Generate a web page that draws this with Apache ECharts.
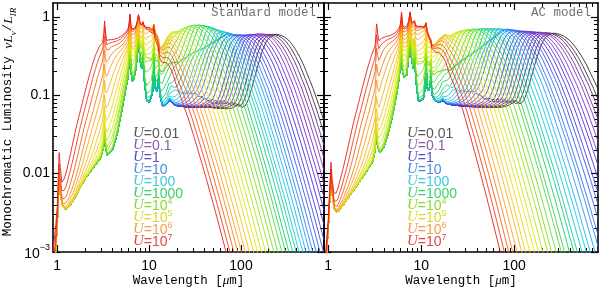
<!DOCTYPE html>
<html><head><meta charset="utf-8">
<script src="https://cdn.jsdelivr.net/npm/echarts@6/dist/echarts.min.js"></script>
<style>html,body{margin:0;padding:0;background:#fff}#c{width:600px;height:290px}</style>
</head><body><div id="c"></div>
<script>
// ---------------- axes ----------------
const X_MIN = 0.9, X_MAX = 800, Y_MIN = 0.001, Y_MAX = 1.5;
const X_MAJOR = [1, 10, 100];
const X_MINOR = [2,3,4,5,6,7,8,9,20,30,40,50,60,70,80,90,200,300,400,500,600,700];
const Y_MAJOR = [0.001, 0.01, 0.1, 1];
const Y_MINOR = [0.002,0.003,0.004,0.005,0.006,0.007,0.008,0.009,0.02,0.03,0.04,0.05,0.06,0.07,0.08,0.09,0.2,0.3,0.4,0.5,0.6,0.7,0.8,0.9];

// ---------------- legend ----------------
const U_BASE = ['0.01','0.1','1','10','100','1000','10','10','10','10'];
const U_EXP  = ['','','','','','','4','5','6','7'];
const U_TEXT_COLORS = ['#585858','#8b5aab','#5b4fc9','#4a8ade','#3ccbe0','#3ccf6a','#8bd92e','#d8d82e','#f0a04a','#e04848'];
const LINE_ANCHORS = ['#2a2a2a','#8a2ab8','#4a2ad8','#2a6ef0','#10c8e8','#10d060','#7ee010','#e6e610','#ffa018','#e81a1a'];
const PANEL_TITLES = ['Standard model', 'AC model'];

// ---------------- Standard model (left) ----------------
// stochastically heated (PAH / small grain) emission, [wavelength um, nuLnu/LIR]
const STD_P = [[0.9,0.0003],[0.95,0.0008],[1.0,0.0022],[1.03,0.005],[1.05,0.008],[1.08,0.0055],[1.15,0.0038],[1.25,0.0034],[1.5,0.0045],[2.0,0.0085],[2.5,0.012],[3.0,0.016],[3.2,0.022],[3.28,0.035],[3.36,0.022],[3.5,0.017],[4.0,0.02],[4.5,0.032],[5.0,0.06],[5.5,0.11],[5.9,0.17],[6.1,0.3],[6.2,0.45],[6.35,0.2],[6.6,0.15],[7.0,0.17],[7.4,0.3],[7.7,0.5],[7.95,0.28],[8.3,0.22],[8.6,0.3],[8.9,0.15],[9.4,0.085],[10.5,0.08],[11.0,0.12],[11.3,0.26],[11.6,0.12],[12.2,0.11],[12.7,0.17],[13.1,0.1],[14.0,0.072],[15.5,0.075],[17.0,0.09],[18.5,0.075],[22,0.072],[30,0.07],[45,0.07],[65,0.066],[90,0.06],[130,0.05],[200,0.035],[300,0.02],[500,0.008],[800,0.003]];
// band strength factor on the heated-grain continuum
const STD_F = [[0.9,1],[1.0,1],[1.03,2.5],[1.05,5],[1.08,2.5],[1.12,1],[3.15,1],[3.22,1.3],[3.28,1.8],[3.35,1.3],[3.45,1],[6.0,1],[6.2,1.2],[6.4,1],[7.4,1],[7.7,1.1],[8.0,1],[8.5,1],[9.7,1.2],[11,1.0],[12.2,0.8],[13,0.5],[14.5,0.6],[16,0.8],[18,0.95],[20,0.9],[24,0.95],[30,1],[800,1]];
// per-curve values, U = 10^-2 ... 10^7 in 0.25 dex steps
const STD_PEAK_WL = [240,218,199,181,165,150,137,125,114,103,94,86,78,71,65,59,54,49,45,41,37,34,31,28,25.5,23.2,21.1,19.2,17.5,16.0,14.5,13.2,12.0,11.0,10.0,9.1,8.3];
const STD_PEAK_VAL = [0.6,0.6,0.6,0.6,0.61,0.61,0.6,0.6,0.59,0.59,0.59,0.59,0.6,0.62,0.64,0.66,0.68,0.7,0.73,0.76,0.78,0.79,0.79,0.78,0.77,0.74,0.71,0.68,0.66,0.64,0.62,0.6,0.59,0.58,0.57,0.56,0.55];
const STD_PLATEAU = [0,0,0,0,0,0,0,0,0,0.01,0.02,0.03,0.04,0.05,0.06,0.07,0.08,0.1,0.12,0.14,0.17,0.2,0.24,0.28,0.32,0.36,0.36,0.36,0.36,0.36,0.36,0.36,0.36,0.36,0.36,0.36,0.36];
const STD_SLOPE = [0,0,0,0,0,0,0,0,0,0,0,0,0,0.05,0.1,0.15,0.2,0.25,0.3,0.35,0.4,0.45,0.5,0.55,0.6,0.6,0.6,0.55,0.5,0.45,0.4,0.33,0.26,0.2,0.14,0.09,0.05];
const STD_TAIL = [1,1,1,1,1,1,1,1,1,1,1,1,1,1,1,1,1,1,1,1,1,1,1,1,1,1,1,1,1,1,1,1,1,1,1,1,1];

// ---------------- AC model (right) ----------------
const AC_P = [[0.9,0.0003],[0.95,0.0008],[1.0,0.002],[1.04,0.005],[1.07,0.009],[1.1,0.0055],[1.17,0.0035],[1.25,0.0031],[1.5,0.0042],[2.0,0.0068],[2.5,0.01],[3.0,0.014],[3.2,0.02],[3.3,0.035],[3.4,0.022],[3.6,0.018],[4.0,0.022],[4.5,0.035],[5.0,0.06],[5.5,0.11],[5.85,0.18],[6.05,0.32],[6.15,0.48],[6.3,0.2],[6.6,0.16],[7.0,0.18],[7.35,0.32],[7.6,0.52],[7.85,0.3],[8.2,0.22],[8.5,0.3],[8.8,0.15],[9.3,0.085],[10.5,0.085],[11.0,0.12],[11.3,0.26],[11.6,0.12],[12.3,0.11],[12.7,0.17],[13.1,0.1],[14,0.085],[16,0.08],[17,0.088],[18.5,0.078],[22,0.075],[30,0.072],[50,0.07],[80,0.068],[120,0.066],[180,0.058],[280,0.04],[450,0.02],[800,0.008]];
const AC_F = [[0.9,1],[1.0,1],[1.04,2.5],[1.07,5],[1.1,2.5],[1.15,1],[3.2,1],[3.26,1.35],[3.32,1.75],[3.4,1.3],[3.5,1],[6.0,1],[6.15,1.2],[6.35,1],[7.3,1],[7.6,1.1],[7.9,1],[8.5,1],[9.7,1.15],[11,1.05],[12,0.8],[13,0.55],[14.5,0.6],[16,0.78],[18,0.92],[20,0.88],[23,0.95],[28,1],[800,1]];
const AC_PEAK_WL = [263,240,219,200,183,167,152,139,127,116,106,97,88,81,74,67,61,56,51,47,43,39,36,32.5,29.7,27.1,24.7,22.6,20.6,18.8,17.2,15.7,14.3,13.1,11.9,10.9,10.0];
const AC_PEAK_VAL = [0.62,0.62,0.63,0.63,0.64,0.64,0.65,0.65,0.66,0.66,0.67,0.68,0.69,0.7,0.7,0.71,0.71,0.71,0.71,0.71,0.71,0.7,0.7,0.69,0.68,0.67,0.66,0.65,0.64,0.63,0.62,0.62,0.61,0.61,0.6,0.6,0.6];
const AC_PLATEAU = [0,0,0,0,0,0,0,0,0,0.01,0.02,0.03,0.04,0.05,0.06,0.07,0.08,0.1,0.12,0.14,0.17,0.2,0.24,0.28,0.32,0.36,0.37,0.38,0.38,0.38,0.38,0.38,0.38,0.38,0.38,0.38,0.38];
const AC_SLOPE = [0,0,0,0,0,0,0,0,0,0,0,0,0,0.05,0.1,0.15,0.2,0.25,0.3,0.35,0.4,0.45,0.5,0.55,0.6,0.6,0.6,0.55,0.5,0.45,0.4,0.33,0.26,0.2,0.14,0.09,0.05];
const AC_TAIL = [0.85,0.86,0.86,0.87,0.87,0.88,0.89,0.89,0.9,0.91,0.91,0.92,0.93,0.93,0.94,0.95,0.95,0.96,0.97,0.97,0.98,0.99,0.99,1.0,1.01,1.01,1.02,1.03,1.03,1.04,1.05,1.05,1.06,1.07,1.07,1.08,1.09];

// heated-grain hump shape (log10 relative to peak) vs log10(lambda/lambda_edge)
const HUMP_BLUE = [[-1.5,-9],[-1.0,-5.6],[-0.8,-4.2],[-0.7,-3.5],[-0.6,-2.8],[-0.5,-2.1],[-0.4,-1.45],[-0.35,-1.15],[-0.3,-0.9],[-0.25,-0.65],[-0.2,-0.42],[-0.15,-0.22],[-0.1,-0.08],[-0.05,-0.02],[0,0]];
const HUMP_RED = [[0,0],[0.05,-0.01],[0.1,-0.04],[0.15,-0.09],[0.2,-0.17],[0.25,-0.27],[0.3,-0.39],[0.4,-0.68],[0.5,-1.02],[0.6,-1.4],[0.7,-1.8],[0.8,-2.22],[0.9,-2.66],[1.0,-3.1],[1.2,-4.05],[1.5,-5.5],[2.0,-8],[3.0,-13]];

// ---------------- helpers ----------------
const lg = Math.log10;
function tab(t, r){ if (r<=t[0][0]) return t[0][1]; for (let i=1;i<t.length;i++){ if (r<=t[i][0]){ const f=(r-t[i-1][0])/(t[i][0]-t[i-1][0]); return t[i-1][1]+(t[i][1]-t[i-1][1])*f; } } return t[t.length-1][1]; }
function nodeLog(n, l){ const L=lg(l); if (l<=n[0][0]) return n[0][1]; for (let i=1;i<n.length;i++){ if (l<=n[i][0]){ const a=lg(n[i-1][0]), b=lg(n[i][0]), f=(L-a)/(b-a); return Math.pow(10, lg(n[i-1][1])+(lg(n[i][1])-lg(n[i-1][1]))*f); } } return n[n.length-1][1]; }
function nodeLin(n, l){ const L=lg(l); if (l<=n[0][0]) return n[0][1]; for (let i=1;i<n.length;i++){ if (l<=n[i][0]){ const a=lg(n[i-1][0]), b=lg(n[i][0]), f=(L-a)/(b-a); return n[i-1][1]+(n[i][1]-n[i-1][1])*f; } } return n[n.length-1][1]; }
function sed(P,F,wl,hv,pw,dd,ts,l){
  const r = lg(l/wl);
  let h;
  if (r >= 0) h = tab(HUMP_RED, r*ts);
  else if (r >= -pw) { const t = 1 + r/pw; h = -dd*(1 - (3*t*t - 2*t*t*t)); }
  else h = -dd + tab(HUMP_BLUE, r+pw);
  const cut = Math.max(15, 0.4*wl);
  const pv = nodeLog(P,l) * (l > cut ? Math.pow(cut/l, 6) : 1);
  return pv + hv*Math.pow(10,h)*nodeLin(F,l);
}
function waveGrid(P,F){ const g=[]; for (let e=lg(X_MIN); e<=lg(X_MAX)+1e-9; e+=0.01) g.push(Math.pow(10,e)); P.forEach(n=>g.push(n[0])); F.forEach(n=>g.push(n[0])); g.sort((a,b)=>a-b); return g.filter((v,i)=>i===0||v-g[i-1]>1e-9); }
function hex2rgb(h){ return [1,3,5].map(i=>parseInt(h.substr(i,2),16)); }
function colorFor(k){ const a=Math.floor(k/4), t=(k%4)/4; if (a>=LINE_ANCHORS.length-1) return LINE_ANCHORS[LINE_ANCHORS.length-1]; const c0=hex2rgb(LINE_ANCHORS[a]), c1=hex2rgb(LINE_ANCHORS[a+1]); return 'rgb('+c0.map((v,i)=>Math.round(v+(c1[i]-v)*t)).join(',')+')'; }

function panelSeries(p, P, F, WL, HV, PW, DD, TS){
  const g = waveGrid(P,F);
  return WL.map((wl,k)=>({
    type:'line', xAxisIndex:4*p, yAxisIndex:4*p, symbol:'none', silent:true, animation:false, z:2,
    lineStyle:{width:0.9, color:colorFor(k)},
    data: g.map(l=>[l, Math.max(1e-5, sed(P,F,wl,HV[k],PW[k],DD[k],TS[k],l))])
  }));
}

// ---------------- axes builders ----------------
const AX = {color:'#000', width:1.6};
const SANS = "'Liberation Sans', Arial, sans-serif";
function xAxes(g){
  const base = {gridIndex:g, type:'log', min:X_MIN, max:X_MAX, splitLine:{show:false}, minorTick:{show:false}};
  return [
    Object.assign({}, base, {position:'bottom', axisLine:{show:true,lineStyle:AX}, axisTick:{show:true,inside:true,length:7,customValues:X_MAJOR,lineStyle:{color:'#000',width:1.2}},
      axisLabel:{show:true, customValues:X_MAJOR, margin:7, fontSize:14, fontFamily:SANS, color:'#000', formatter:v=>String(Math.round(v))}}),
    Object.assign({}, base, {position:'bottom', axisLine:{show:false}, axisTick:{show:true,inside:true,length:4,customValues:X_MINOR,lineStyle:{color:'#000',width:1}}, axisLabel:{show:false}}),
    Object.assign({}, base, {position:'top', axisLine:{show:true,lineStyle:AX}, axisTick:{show:true,inside:true,length:7,customValues:X_MAJOR,lineStyle:{color:'#000',width:1.2}}, axisLabel:{show:false}}),
    Object.assign({}, base, {position:'top', axisLine:{show:false}, axisTick:{show:true,inside:true,length:4,customValues:X_MINOR,lineStyle:{color:'#000',width:1}}, axisLabel:{show:false}})
  ];
}
function yAxes(g, labels){
  const base = {gridIndex:g, type:'log', min:Y_MIN, max:Y_MAX, splitLine:{show:false}, minorTick:{show:false}};
  return [
    Object.assign({}, base, {position:'left', axisLine:{show:true,lineStyle:AX}, axisTick:{show:true,inside:true,length:7,customValues:Y_MAJOR,lineStyle:{color:'#000',width:1.2}},
      axisLabel:{show:labels, customValues:Y_MAJOR, margin:3, fontSize:14, fontFamily:SANS, color:'#000',
        formatter:v=>{ const e=Math.round(lg(v)); return e===-3 ? '{b|10}{s|−3}' : (e===0?'1':(e===-1?'0.1':'0.01')); },
        rich:{b:{fontSize:14,fontFamily:SANS,color:'#000',verticalAlign:'bottom',lineHeight:18}, s:{fontSize:9,fontFamily:SANS,color:'#000',verticalAlign:'top',lineHeight:10}}}}),
    Object.assign({}, base, {position:'left', axisLine:{show:false}, axisTick:{show:true,inside:true,length:4,customValues:Y_MINOR,lineStyle:{color:'#000',width:1}}, axisLabel:{show:false}}),
    Object.assign({}, base, {position:'right', axisLine:{show:true,lineStyle:AX}, axisTick:{show:true,inside:true,length:7,customValues:Y_MAJOR,lineStyle:{color:'#000',width:1.2}}, axisLabel:{show:false}}),
    Object.assign({}, base, {position:'right', axisLine:{show:false}, axisTick:{show:true,inside:true,length:4,customValues:Y_MINOR,lineStyle:{color:'#000',width:1}}, axisLabel:{show:false}})
  ];
}

// ---------------- texts ----------------
const MONO = "'Liberation Mono', 'DejaVu Sans Mono', monospace";
const SERIF = "'Liberation Serif', 'DejaVu Serif', serif";
const graphics = [];
function legend(x0){
  U_BASE.forEach((b,i)=>{
    const c = U_TEXT_COLORS[i];
    graphics.push({type:'text', x:x0, y:133+12*i, silent:true, z:10, style:{
      text:'{u|U}{n|='+b+'}'+(U_EXP[i]?'{s|'+U_EXP[i]+'}':''), align:'left', verticalAlign:'middle',
      rich:{u:{fontFamily:SERIF,fontStyle:'italic',fontSize:15,fill:c,verticalAlign:'bottom',lineHeight:16},
            n:{fontFamily:SANS,fontSize:14,fill:c,verticalAlign:'bottom',lineHeight:16},
            s:{fontFamily:SANS,fontSize:9,fill:c,verticalAlign:'top',lineHeight:10}}}});
  });
}
legend(133); legend(407);
graphics.push({type:'text', x:316, y:13, z:10, silent:true, style:{text:PANEL_TITLES[0], font:"12.5px "+MONO, fill:'#707070', align:'right', verticalAlign:'middle'}});
graphics.push({type:'text', x:591, y:13, z:10, silent:true, style:{text:PANEL_TITLES[1], font:"12.5px "+MONO, fill:'#707070', align:'right', verticalAlign:'middle'}});
[188.5, 461].forEach(cx=>graphics.push({type:'text', x:cx, y:281, silent:true, style:{
  text:'{a|Wavelength [}{m|μ}{a|m]}', align:'center', verticalAlign:'middle',
  rich:{a:{fontFamily:MONO,fontSize:12.5,fill:'#000'}, m:{fontFamily:SERIF,fontStyle:'italic',fontSize:13,fill:'#000'}}}}));
graphics.push({type:'text', x:10, y:122, rotation:Math.PI/2, silent:true, style:{
  text:'{a|Monochromatic Luminosity }{i|νL}{b|ν}{a|/}{i|L}{b|IR}', align:'center', verticalAlign:'middle',
  rich:{a:{fontFamily:MONO,fontSize:12.5,fill:'#000',verticalAlign:'top',lineHeight:17},
        i:{fontFamily:SERIF,fontStyle:'italic',fontSize:13.5,fill:'#000',verticalAlign:'top',lineHeight:17},
        b:{fontFamily:SERIF,fontStyle:'italic',fontSize:9,fill:'#000',verticalAlign:'bottom',lineHeight:10}}}});

const chart = echarts.init(document.getElementById('c'), null, {renderer:'canvas'});
chart.setOption({
  animation:false,
  grid:[{left:53,right:276,top:3,bottom:38},{left:324,right:2,top:3,bottom:38}],
  xAxis:[].concat(xAxes(0), xAxes(1)),
  yAxis:[].concat(yAxes(0,true), yAxes(1,false)),
  series:[].concat(
    panelSeries(0, STD_P, STD_F, STD_PEAK_WL, STD_PEAK_VAL, STD_PLATEAU, STD_SLOPE, STD_TAIL),
    panelSeries(1, AC_P, AC_F, AC_PEAK_WL, AC_PEAK_VAL, AC_PLATEAU, AC_SLOPE, AC_TAIL)),
  graphic:graphics
});
</script></body></html>
